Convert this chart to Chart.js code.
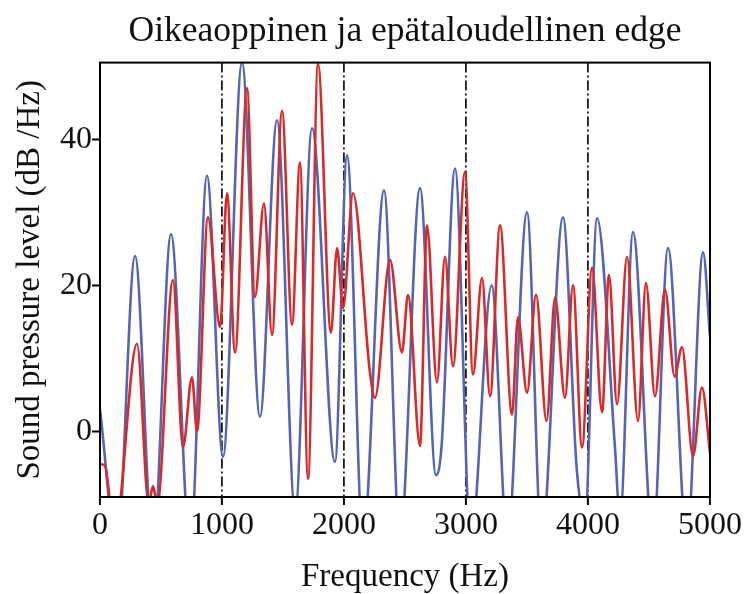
<!DOCTYPE html>
<html>
<head>
<meta charset="utf-8">
<script src="https://cdn.jsdelivr.net/npm/chart.js@4"></script>
<style>
html,body{margin:0;padding:0;background:#fff;}
canvas{display:block;}
</style>
</head>
<body>
<canvas id="c" width="747" height="594"></canvas>
<script>
// Tick labels
const freqTicks = [0, 1000, 2000, 3000, 4000, 5000];
const dbTicks = [0, 20, 40];

// Blue series (peaks / troughs)
const blueFreq = [0, 140, 287, 435, 582, 740, 877, 1008, 1164, 1311, 1451, 1600, 1738, 1926, 2025, 2156, 2328, 2459, 2623, 2754, 2800, 2910, 3040, 3210, 3340, 3500, 3620, 3795, 3907, 3975, 4074, 4221, 4262, 4369, 4533, 4656, 4811, 4943, 5000];
const blueDb   = [3, -16, 24, -16, 27, -16, 35, -3.5, 50.5, 2, 42.6, -11, 41.5, -4.2, 37.8, -15, 33, -15, 33.3, -6, -2, 36, -15, 20, -15, 30, -15, 29.3, -5, -12, 29.2, -2.2, -12, 27.3, -15, 25.1, -15, 24.5, 13];

// Red series
const redFreq = [0, 40, 120, 303, 400, 434, 470, 598, 680, 754, 795, 885, 984, 1041, 1107, 1205, 1270, 1344, 1410, 1492, 1574, 1639, 1705, 1787, 1893, 1943, 1992, 2074, 2213, 2254, 2377, 2475, 2525, 2623, 2680, 2762, 2828, 2893, 2992, 3057, 3131, 3197, 3279, 3377, 3426, 3500, 3574, 3660, 3730, 3811, 3877, 3951, 4033, 4115, 4172, 4238, 4320, 4410, 4475, 4549, 4631, 4710, 4770, 4861, 4934, 5000];
const redDb   = [-4.5, -4.7, -14, 12, -10, -7.5, -10, 20.7, -2.2, 7.4, 0, 29.3, 14.3, 32.6, 10.8, 47, 18.4, 31.2, 13.2, 43.9, 14.6, 36.8, -6.5, 50.3, 13.5, 25.1, 16.9, 32.6, 8, 4.6, 23.5, 10.8, 18.7, -2, 28.2, 6.7, 23.9, 8.9, 35.5, 7.8, 21, 4.8, 28.2, 2.3, 15.6, 5.3, 18.7, 1.4, 18.3, 4.6, 20, -2.2, 22.4, 2.6, 21.4, 3.7, 23.9, 1.4, 20.3, 4.8, 19.4, 7.5, 11.5, -3.4, 6, -3];

const toPts = (fs, ds) => fs.map((f, i) => ({x: f, y: ds[i]}));

Chart.defaults.font.family = "'Liberation Serif', 'DejaVu Serif', serif";
Chart.defaults.color = '#111';

const framePlugin = {
  id: 'frame',
  afterDraw(chart) {
    const {ctx, chartArea: a} = chart;
    ctx.save();
    ctx.strokeStyle = '#000';
    ctx.lineWidth = 2;
    ctx.strokeRect(a.left, a.top, a.right - a.left, a.bottom - a.top);
    ctx.restore();
  }
};

new Chart(document.getElementById('c'), {
  type: 'line',
  data: {
    datasets: [
      {
        label: 'blue',
        data: toPts(blueFreq, blueDb),
        borderColor: '#5565b5',
        borderWidth: 2.6,
        pointRadius: 0,
        cubicInterpolationMode: 'monotone',
        fill: false,
        order: 2
      },
      {
        label: 'red',
        data: toPts(redFreq, redDb),
        borderColor: '#d92a2a',
        borderWidth: 2.6,
        pointRadius: 0,
        cubicInterpolationMode: 'monotone',
        fill: false,
        order: 1
      }
    ]
  },
  options: {
    responsive: false,
    devicePixelRatio: 1,
    animation: false,
    layout: {padding: {top: 10, right: 37, bottom: 0, left: 0}},
    plugins: {
      legend: {display: false},
      tooltip: {enabled: false},
      title: {
        display: true,
        fullSize: false,
        text: 'Oikeaoppinen ja epätaloudellinen edge',
        color: '#111',
        font: {size: 35.5, weight: 'normal', lineHeight: 1.2},
        padding: {top: 0, bottom: 10}
      }
    },
    scales: {
      x: {
        type: 'linear',
        min: 0,
        max: 5000,
        afterBuildTicks: s => { s.ticks = freqTicks.map(v => ({value: v})); },
        afterFit: s => { s.height = 97; },
        ticks: {
          font: {size: 32},
          color: '#111',
          padding: 1,
          maxRotation: 0,
          autoSkip: false,
          callback: v => String(v)
        },
        grid: {
          display: true,
          drawOnChartArea: true,
          color: ctx => (ctx.tick && (ctx.tick.value === 0 || ctx.tick.value === 5000)) ? 'rgba(0,0,0,0)' : '#1a1a1a',
          lineWidth: 1.8,
          drawTicks: true,
          tickLength: 8,
          tickColor: '#000',
          tickWidth: 2,
          tickBorderDash: []
        },
        border: {display: true, color: '#000', width: 2, dash: [10, 3, 2, 3]},
        title: {
          display: true,
          text: 'Frequency (Hz)',
          color: '#111',
          font: {size: 33, lineHeight: 1.0},
          padding: {top: 0, bottom: 0}
        }
      },
      y: {
        min: -9,
        max: 50.5,
        afterBuildTicks: s => { s.ticks = dbTicks.map(v => ({value: v})); },
        afterFit: s => { s.width = 100; },
        ticks: {
          font: {size: 32},
          color: '#111',
          padding: 0,
          callback: v => String(v)
        },
        grid: {
          display: true,
          drawOnChartArea: false,
          drawTicks: true,
          tickLength: 8,
          tickColor: '#000',
          tickWidth: 2
        },
        border: {display: true, color: '#000', width: 2},
        title: {
          display: true,
          text: 'Sound pressure level (dB /Hz)',
          color: '#111',
          font: {size: 33, lineHeight: 1.0},
          padding: {top: 14, bottom: 0}
        }
      }
    }
  },
  plugins: [framePlugin]
});
</script>
</body>
</html>
